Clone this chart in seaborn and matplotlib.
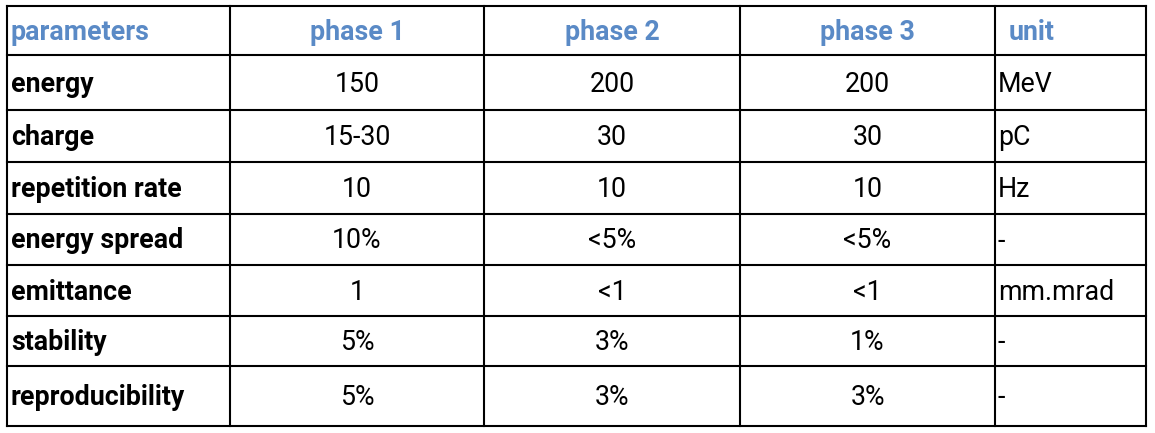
import matplotlib
matplotlib.use("Agg")
import matplotlib.pyplot as plt
import seaborn as sns

sns.set_theme(style="white")
plt.rcParams['font.family'] = ['Roboto', 'DejaVu Sans']

headers = ["parameters", "phase 1", "phase 2", "phase 3", "unit"]
parameters = ["energy", "charge", "repetition rate", "energy spread", "emittance", "stability", "reproducibility"]
phase1 = ["150", "15-30", "10", "10%", "1", "5%", "5%"]
phase2 = ["200", "30", "10", "<5%", "<1", "3%", "3%"]
phase3 = ["200", "30", "10", "<5%", "<1", "1%", "3%"]
units = ["MeV", "pC", "Hz", "-", "mm.mrad", "-", "-"]

col_edges = [7, 230, 484, 740, 995, 1146]
row_edges = [6, 55, 110, 162, 214, 265, 316, 366, 426]
blue = "#5a8ac6"

fig = plt.figure(figsize=(11.55, 4.33), dpi=100)
ax = fig.add_axes([0, 0, 1, 1])
ax.set_xlim(0, 1155)
ax.set_ylim(433, 0)
ax.axis("off")

for y in row_edges:
    ax.plot([col_edges[0], col_edges[-1]], [y, y], color="black", lw=1.5, solid_capstyle="projecting")
for x in col_edges:
    ax.plot([x, x], [row_edges[0], row_edges[-1]], color="black", lw=1.5, solid_capstyle="projecting")

fs = 19.3
def cy(i):
    return (row_edges[i] + row_edges[i + 1]) / 2 + 1.5

for j, h in enumerate(headers):
    if j == 0 or j == 4:
        ax.text(col_edges[j] + 4 + (10 if j == 4 else 0), cy(0), h, color=blue, fontweight="bold",
                fontsize=fs, ha="left", va="center")
    else:
        ax.text((col_edges[j] + col_edges[j + 1]) / 2, cy(0), h, color=blue, fontweight="bold",
                fontsize=fs, ha="center", va="center")

for i in range(len(parameters)):
    y = cy(i + 1)
    ax.text(col_edges[0] + 4, y, parameters[i], fontweight="bold", fontsize=fs, ha="left", va="center", color="black")
    for j, vals in enumerate([phase1, phase2, phase3], start=1):
        ax.text((col_edges[j] + col_edges[j + 1]) / 2, y, vals[i], fontsize=fs, ha="center", va="center", color="black")
    ax.text(col_edges[4] + 3, y, units[i], fontsize=fs, ha="left", va="center", color="black")

fig.savefig("out.png", dpi=100)
